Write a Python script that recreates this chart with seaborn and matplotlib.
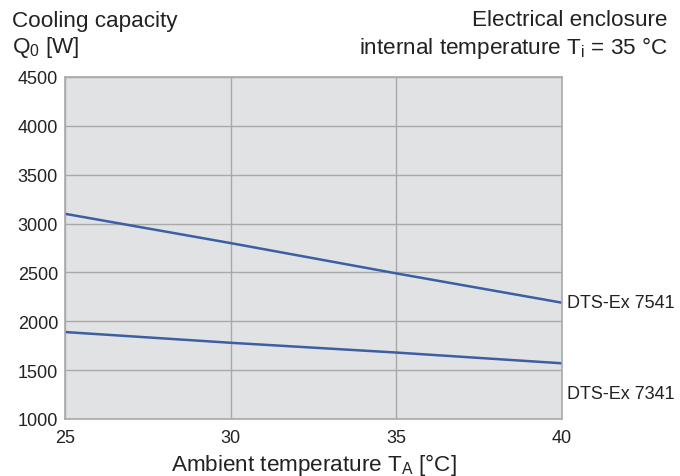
import numpy as np
import pandas as pd
import matplotlib
matplotlib.use("Agg")
import matplotlib.pyplot as plt
import seaborn as sns

# Data
ambient_temp = [25, 30, 35, 40]
dts_7541 = [3100, 2800, 2490, 2190]
dts_7341 = [1890, 1780, 1680, 1570]
models = ["DTS-Ex 7541", "DTS-Ex 7341"]
x_ticks = [25, 30, 35, 40]
y_ticks = [1000, 1500, 2000, 2500, 3000, 3500, 4000, 4500]


def build_frame():
    """
    Long-form table for seaborn
    """
    rows = []
    for name, vals in zip(models, [dts_7541, dts_7341]):
        for t, v in zip(ambient_temp, vals):
            rows.append({"T": t, "Q": v, "model": name})
    return pd.DataFrame(rows)


def main():
    sns.set_style("white")
    plt.rcParams["font.family"] = ["Liberation Sans", "DejaVu Sans"]
    plt.rcParams["mathtext.default"] = "regular"

    df = build_frame()
    line_color = "#3c5fa3"
    grid_color = "#a9a9a9"
    txt = "#222222"

    fig = plt.figure(figsize=(6.8, 4.77), dpi=100)
    ax = fig.add_axes([0.0956, 0.1195, 0.7309, 0.717])
    ax.set_facecolor("#e1e2e4")

    sns.lineplot(data=df, x="T", y="Q", hue="model",
                 palette=[line_color, line_color], linewidth=1.8,
                 legend=False, ax=ax)

    ax.set_xlim(25, 40)
    ax.set_ylim(1000, 4500)
    ax.set_xticks(x_ticks)
    ax.set_yticks(y_ticks)
    ax.grid(True, color=grid_color, linewidth=1.0)
    ax.set_axisbelow(True)
    for sp in ax.spines.values():
        sp.set_color(grid_color)
        sp.set_linewidth(1.2)
    ax.tick_params(axis="both", length=0, labelsize=13, colors=txt)
    ax.tick_params(axis="x", pad=7)
    ax.tick_params(axis="y", pad=5)
    ax.set_xlabel("Ambient temperature T$_A$ [°C]", fontsize=16.2,
                  color=txt, labelpad=4)
    ax.set_ylabel("")

    # Line labels at the right edge
    ax.text(1.01, (dts_7541[-1] - 1000) / 3500, models[0],
            transform=ax.transAxes, ha="left", va="center",
            fontsize=13, color=txt)
    ax.text(1.01, 0.075, models[1],
            transform=ax.transAxes, ha="left", va="center",
            fontsize=13, color=txt)

    # Header texts
    fig.text(12 / 680, 1 - 21 / 477, "Cooling capacity", ha="left", va="center",
             fontsize=16.2, color=txt)
    fig.text(12 / 680, 1 - 48 / 477, "Q$_0$ [W]", ha="left", va="center",
             fontsize=16.2, color=txt)
    fig.text(668 / 680, 1 - 21 / 477, "Electrical enclosure", ha="right",
             va="center", fontsize=16.2, color=txt)
    fig.text(668 / 680, 1 - 48 / 477, "internal temperature T$_i$ = 35 °C",
             ha="right", va="center", fontsize=16.2, color=txt)

    fig.savefig("out.png", dpi=100)


if __name__ == "__main__":
    main()
